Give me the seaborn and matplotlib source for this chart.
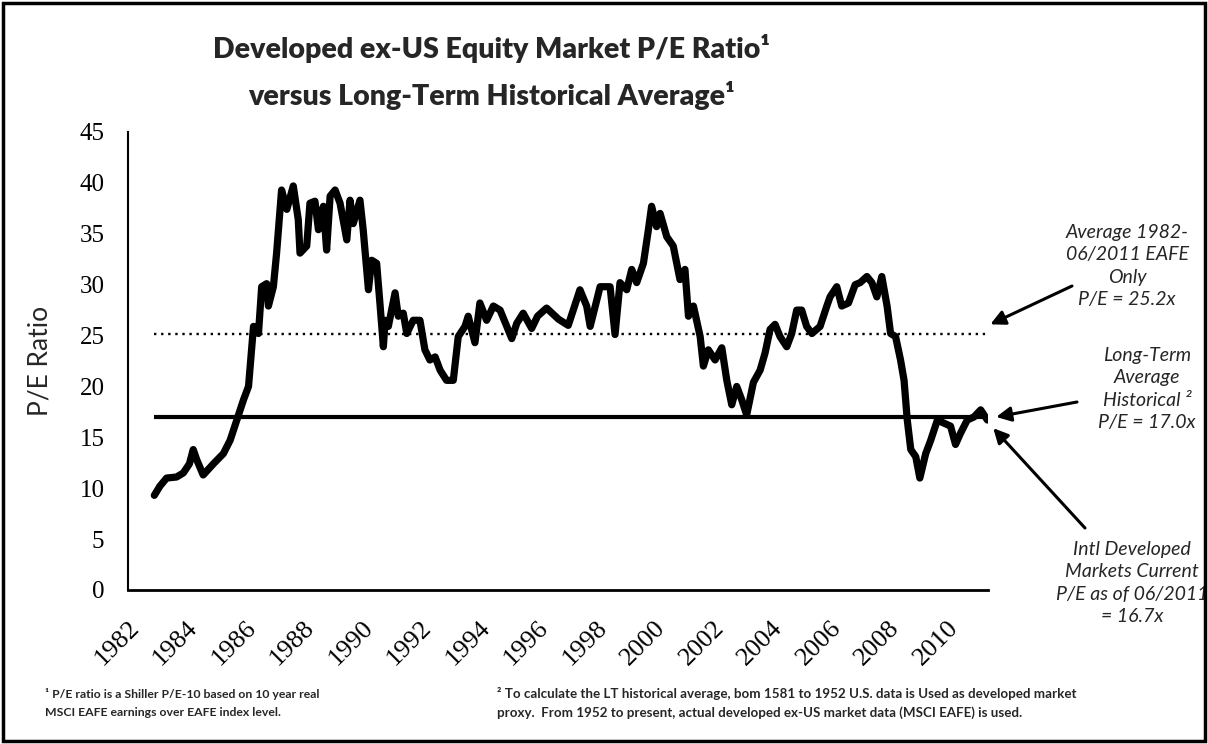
import matplotlib
matplotlib.use("Agg")
import matplotlib.pyplot as plt
import seaborn as sns
from matplotlib.patches import Rectangle

# ---------------- data ----------------
years = [
    1982.90, 1983.09, 1983.32, 1983.66, 1983.89, 1984.10, 1984.23, 1984.35, 1984.57, 1984.92,
    1985.26, 1985.49, 1985.72, 1985.95, 1986.12, 1986.23, 1986.29, 1986.46, 1986.57, 1986.74,
    1986.80, 1986.97, 1987.08, 1987.25, 1987.43, 1987.65, 1987.82, 1987.88, 1988.11, 1988.22,
    1988.39, 1988.51, 1988.68, 1988.79, 1988.91, 1989.08, 1989.25, 1989.48, 1989.59, 1989.70,
    1989.93, 1990.04, 1990.22, 1990.33, 1990.50, 1990.62, 1990.73, 1990.79, 1990.90, 1991.13,
    1991.24, 1991.41, 1991.53, 1991.75, 1991.98, 1992.15, 1992.32, 1992.50, 1992.67, 1992.89,
    1993.12, 1993.29, 1993.52, 1993.63, 1993.86, 1994.03, 1994.26, 1994.49, 1994.72, 1995.12,
    1995.29, 1995.51, 1995.80, 1996.00, 1996.31, 1996.72, 1997.05, 1997.45, 1997.68, 1997.80,
    1998.14, 1998.48, 1998.65, 1998.82, 1999.05, 1999.22, 1999.39, 1999.62, 1999.79, 1999.90,
    2000.07, 2000.19, 2000.42, 2000.64, 2000.87, 2001.04, 2001.16, 2001.33, 2001.56, 2001.67,
    2001.84, 2002.07, 2002.30, 2002.47, 2002.64, 2002.81, 2002.98, 2003.15, 2003.38, 2003.61,
    2003.78, 2003.95, 2004.12, 2004.29, 2004.52, 2004.69, 2004.86, 2005.03, 2005.20, 2005.38,
    2005.66, 2005.89, 2006.00, 2006.23, 2006.40, 2006.63, 2006.86, 2007.03, 2007.26, 2007.43,
    2007.60, 2007.77, 2007.95, 2008.07, 2008.24, 2008.41, 2008.53, 2008.64, 2008.76, 2008.93,
    2009.07, 2009.27, 2009.44, 2009.67, 2009.89, 2010.12, 2010.29, 2010.46, 2010.69, 2010.92,
    2011.15, 2011.38,
]
pe_ratio = [
    9.3, 10.2, 11.0, 11.1, 11.5, 12.4, 13.8, 12.8, 11.3, 12.4,
    13.4, 14.7, 16.7, 18.7, 20.0, 23.9, 25.9, 25.2, 29.8, 30.1,
    27.9, 29.8, 33.1, 39.3, 37.4, 39.7, 36.4, 33.1, 33.8, 38.0,
    38.2, 35.4, 37.7, 33.4, 38.7, 39.3, 38.0, 34.4, 38.3, 36.0,
    38.3, 35.4, 29.5, 32.4, 32.1, 27.9, 23.9, 26.5, 25.9, 29.2,
    26.9, 27.2, 25.2, 26.5, 26.5, 23.6, 22.6, 22.9, 21.6, 20.6,
    20.6, 24.9, 25.9, 26.9, 24.3, 28.2, 26.5, 27.9, 27.5, 24.7,
    26.2, 27.2, 25.7, 26.9, 27.7, 26.6, 26.0, 29.5, 27.9, 25.9,
    29.8, 29.8, 25.1, 30.2, 29.5, 31.5, 30.2, 32.1, 35.4, 37.7,
    35.7, 37.0, 34.7, 33.8, 30.5, 31.5, 26.9, 27.9, 24.9, 22.0,
    23.6, 22.6, 23.8, 20.6, 18.2, 20.0, 18.7, 17.2, 20.4, 21.6,
    23.3, 25.6, 26.1, 24.9, 23.9, 25.2, 27.5, 27.5, 25.9, 25.2,
    25.9, 27.9, 28.8, 29.8, 27.9, 28.2, 30.0, 30.2, 30.8, 30.2,
    28.8, 30.8, 27.9, 25.2, 24.9, 22.6, 20.6, 16.7, 13.8, 13.1,
    11.0, 13.4, 14.7, 16.7, 16.4, 16.1, 14.3, 15.4, 16.7, 17.0,
    17.7, 16.7,
]
eafe_avg = 25.2
lt_avg = 17.0
current_pe = 16.7
xtick_years = list(range(1982, 2011, 2))
yticks = list(range(0, 46, 5))

title_text = "Developed ex-US Equity Market P/E Ratio\u00b9\nversus Long-Term Historical Average\u00b9"
ylabel_text = "P/E Ratio"
note1 = "Average 1982-\n06/2011 EAFE\nOnly\nP/E = 25.2x"
note2 = "Long-Term\nAverage\nHistorical \u00b2\nP/E = 17.0x"
note3 = "Intl Developed\nMarkets Current\nP/E as of 06/2011\n= 16.7x"
foot1 = "\u00b9 P/E ratio is a Shiller P/E-10 based on 10 year real\nMSCI EAFE earnings over EAFE index level."
foot2 = ("\u00b2 To calculate the LT historical average, bom 1581 to 1952 U.S. data is Used as developed market\n"
         "proxy.  From 1952 to present, actual developed ex-US market data (MSCI EAFE) is used.")

# ---------------- style ----------------
sns.set_style("white")
plt.rcParams['font.family'] = ['Lato', 'DejaVu Sans']

W, H = 1208, 744
fig = plt.figure(figsize=(W / 100, H / 100), dpi=100)
fig.patch.set_facecolor("white")

def fx(px):
    return px / W

def fy(py):
    return 1 - py / H

ax = fig.add_axes([fx(128), fy(590), fx(988 - 128), (590 - 132) / H])

sns.lineplot(x=years, y=pe_ratio, color="black", linewidth=5.2, ax=ax,
             solid_joinstyle="round", solid_capstyle="round", zorder=3)
ax.hlines(eafe_avg, years[0], years[-1], colors="black", linestyles=(0, (1, 2.0)),
          linewidth=1.7, zorder=2)
ax.hlines(lt_avg, years[0], years[-1], colors="black", linewidth=3.0, zorder=2)

ax.set_xlim(1982, 2011.4)
ax.set_ylim(0, 45)
ax.set_yticks(yticks)
ax.set_xticks(xtick_years)
ax.set_xticklabels([str(y) for y in xtick_years], rotation=45, ha="right",
                   va="top", rotation_mode="anchor")
for lab in ax.get_yticklabels():
    lab.set_fontfamily("Liberation Serif")
    lab.set_fontsize(18)
for lab in ax.get_xticklabels():
    lab.set_fontfamily("Liberation Serif")
    lab.set_fontsize(19)
ax.tick_params(axis="y", direction="out", length=5, width=1, pad=12, colors="black")
ax.tick_params(axis="x", direction="out", length=5, width=1, pad=14, colors="black")
for s in ["top", "right"]:
    ax.spines[s].set_visible(False)
ax.spines["left"].set_linewidth(1.5)
ax.spines["bottom"].set_linewidth(2)
ax.spines["left"].set_color("black")
ax.spines["bottom"].set_color("black")
ax.set_xlabel("")
ax.set_ylabel("")

# title & y label
fig.text(fx(491), fy(72), title_text, ha="center", va="center", fontsize=20.5,
         fontweight="heavy", linespacing=1.75)
fig.text(fx(40), fy(361), ylabel_text, ha="center", va="center", rotation=90, fontsize=19)

# annotations
note_kw = dict(ha="center", va="center", fontsize=14, style="italic",
               linespacing=1.4, annotation_clip=False)
arrow = dict(arrowstyle="-|>", color="black", lw=2.2, mutation_scale=22,
             shrinkA=0, shrinkB=0)
ax.annotate(note1, xy=(years[-1] + 0.1, eafe_avg + 0.9), xycoords="data",
            xytext=(fx(1127), fy(266)), textcoords="figure fraction", **note_kw)
ax.annotate("", xy=(years[-1] + 0.1, eafe_avg + 0.9), xycoords="data",
            xytext=(fx(1072), fy(286)), textcoords="figure fraction",
            arrowprops=arrow, annotation_clip=False)
ax.annotate(note2, xy=(years[-1] + 0.3, lt_avg), xycoords="data",
            xytext=(fx(1147), fy(389)), textcoords="figure fraction", **note_kw)
ax.annotate("", xy=(years[-1] + 0.3, lt_avg), xycoords="data",
            xytext=(fx(1077), fy(402)), textcoords="figure fraction",
            arrowprops=arrow, annotation_clip=False)
ax.annotate(note3, xy=(years[-1] + 0.2, current_pe - 0.8), xycoords="data",
            xytext=(fx(1132), fy(583)), textcoords="figure fraction", **note_kw)
ax.annotate("", xy=(years[-1] + 0.2, current_pe - 0.8), xycoords="data",
            xytext=(fx(1085), fy(528)), textcoords="figure fraction",
            arrowprops=arrow, annotation_clip=False)

# footnotes
fig.text(fx(45), fy(703), foot1, ha="left", va="center", fontsize=8.8,
         fontweight="bold", linespacing=1.8)
fig.text(fx(497), fy(703), foot2, ha="left", va="center", fontsize=9.6,
         fontweight="bold", linespacing=1.65)

# outer border
fig.patches.append(Rectangle((fx(3), fy(741)), fx(1202), (741 - 3) / H, transform=fig.transFigure,
                             fill=False, edgecolor="black", linewidth=2.5, zorder=10))

fig.savefig("out.png", dpi=100)
